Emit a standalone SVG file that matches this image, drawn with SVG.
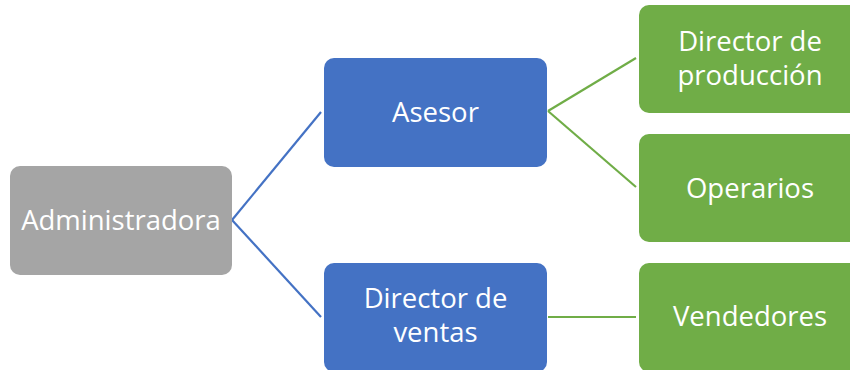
<svg xmlns="http://www.w3.org/2000/svg" width="850" height="370" viewBox="0 0 850 370">
<style>
.box{stroke:none}
.gray{fill:#a5a5a5}
.blue{fill:#4472c4}
.green{fill:#70ad47}
.lbl{font-family:"Open Sans","Noto Sans",sans-serif;font-size:27.5px;fill:#ffffff;text-anchor:middle}
.cb{stroke:#4472c4;stroke-width:2.2;fill:none}
.cg{stroke:#70ad47;stroke-width:2.2;fill:none}
</style>
<rect width="850" height="370" fill="#ffffff"/>
<g id="connectors">
<line class="cb" x1="232" y1="220" x2="321" y2="112"/>
<line class="cb" x1="232" y1="220" x2="321" y2="317"/>
<line class="cg" x1="548" y1="111" x2="636" y2="58"/>
<line class="cg" x1="548" y1="111" x2="636" y2="187"/>
<line class="cg" x1="548" y1="317" x2="636" y2="317"/>
</g>
<g id="administradora">
<rect class="box gray" x="10" y="166" width="222" height="109" rx="10"/>
<text class="lbl" x="121" y="230">Administradora</text>
</g>
<g id="asesor">
<rect class="box blue" x="324" y="58" width="223" height="109" rx="10"/>
<text class="lbl" x="435.5" y="122">Asesor</text>
</g>
<g id="director-ventas">
<rect class="box blue" x="324" y="263" width="223" height="109" rx="10"/>
<text class="lbl" x="435.5" y="308">Director de</text>
<text class="lbl" x="435.5" y="342">ventas</text>
</g>
<g id="director-produccion">
<rect class="box green" x="639" y="5" width="222" height="108" rx="10"/>
<text class="lbl" x="750" y="51">Director de</text>
<text class="lbl" x="750" y="85">producción</text>
</g>
<g id="operarios">
<rect class="box green" x="639" y="134" width="222" height="108" rx="10"/>
<text class="lbl" x="750" y="198">Operarios</text>
</g>
<g id="vendedores">
<rect class="box green" x="639" y="263" width="222" height="109" rx="10"/>
<text class="lbl" x="750" y="326">Vendedores</text>
</g>
</svg>
